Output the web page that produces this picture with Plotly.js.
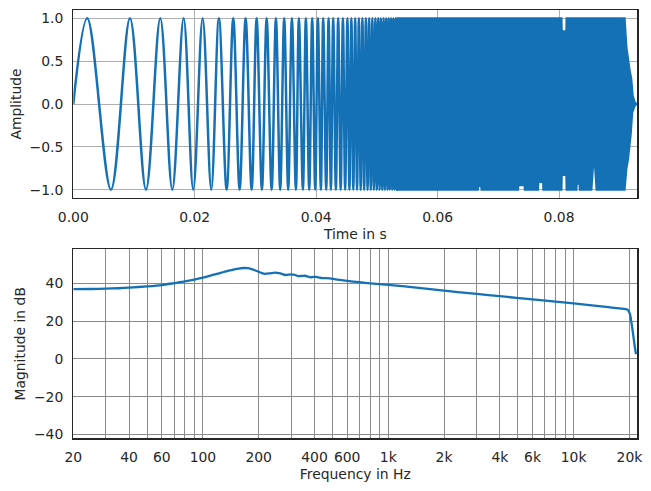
<!DOCTYPE html>
<html>
<head>
<meta charset="utf-8">
<script src="https://cdn.plot.ly/plotly-3.0.1.min.js"></script>
<style>
  html, body { margin: 0; padding: 0; background: #ffffff; }
  #chart { width: 651px; height: 491px; }
</style>
</head>
<body>
<div id="chart"></div>
<script>
// Sweep signal: extrema of the resolved oscillations (time in s, amplitude)
const sweepT = [
  0, 0.0023, 0.0062, 0.00933, 0.01197, 0.01432, 0.0163, 0.01817, 0.01975, 0.0213,
  0.02272, 0.02398, 0.02525, 0.02634, 0.02739, 0.02838, 0.02937, 0.03019, 0.03106, 0.03184,
  0.03266, 0.03337, 0.03407, 0.03473, 0.03539, 0.0360, 0.03666, 0.03715, 0.03781, 0.0383,
  0.03885, 0.03934, 0.03984, 0.04028, 0.04077, 0.04115, 0.04165, 0.04204, 0.04242, 0.0428,
  0.04324, 0.04362, 0.04403, 0.0444, 0.04477, 0.04514, 0.04547, 0.04579, 0.04611, 0.04642,
  0.04673, 0.04703, 0.04733, 0.04761, 0.0479, 0.04818, 0.04846, 0.04872, 0.04899, 0.04925,
  0.0495, 0.04975, 0.04998, 0.05021, 0.05044, 0.05065, 0.05088, 0.0511, 0.05131, 0.05152,
  0.05174, 0.05193, 0.05213, 0.05233, 0.05253, 0.05271, 0.05291, 0.05309, 0.05327, 0.05345
];
const sweepA = [
  0, 1, -1, 1, -1, 1, -1, 1, -1, 1,
  -1, 1, -1, 1, -1, 1, -1, 1, -1, 1,
  -1, 1, -1, 1, -1, 1, -1, 1, -1, 1,
  -1, 1, -1, 1, -1, 1, -1, 1, -1, 1,
  -1, 1, -1, 1, -1, 1, -1, 1, -1, 1,
  -1, 1, -1, 1, -1, 1, -1, 1, -1, 1,
  -1, 1, -1, 1, -1, 1, -1, 1, -1, 1,
  -1, 1, -1, 1, -1, 1, -1, 1, -1, 1
];

// High-frequency part of the sweep: upper and lower envelope of the band
const bandTopT = [0.0532, 0.0804, 0.08045, 0.08118, 0.08122, 0.0908, 0.0911, 0.09139, 0.09164, 0.09189, 0.09213, 0.09246, 0.09275];
const bandTopA = [1, 1, 0.85, 0.85, 1, 1, 0.66, 0.5, 0.39, 0.3, 0.1, 0.02, 0];
const bandBotT = [0.0532, 0.06662, 0.06667, 0.06718, 0.06723, 0.07325, 0.0733, 0.0743, 0.07435,
  0.07654, 0.0766, 0.07735, 0.0774, 0.0804, 0.08045, 0.08118, 0.08122, 0.08287, 0.08292,
  0.08336, 0.08341, 0.08533, 0.08576, 0.08616, 0.08889, 0.08894, 0.08912, 0.08917, 0.0908,
  0.0911, 0.09135, 0.09164, 0.0918, 0.09205, 0.09246, 0.09275];
const bandBotA = [-1, -1, -0.96, -0.96, -1, -1, -0.95, -0.95, -1,
  -1, -0.91, -0.91, -1, -1, -0.83, -0.83, -1, -1, -0.93,
  -0.93, -1, -1, -0.56, -1, -1, -0.91, -0.91, -1, -1,
  -0.75, -0.65, -0.5, -0.36, -0.1, -0.02, 0];

// Magnitude spectrum
const magFreq = [20, 25, 30, 35, 40, 50, 60, 70, 80, 90, 100, 119, 135, 146, 156, 165, 175, 183, 192,
  200, 208, 216, 230, 245, 262, 279, 300, 315, 327, 342, 355, 368, 380, 395, 410, 425, 440, 460,
  485, 520, 600, 700, 800, 1000, 1500, 2000, 3000, 4000, 6000, 10000, 15000, 19000, 19500, 20100,
  20900, 21300, 21700];
const magDb = [36.9, 37.0, 37.2, 37.4, 37.7, 38.4, 39.1, 40.1, 41.0, 42.0, 43.0, 45.0, 46.5, 47.2, 47.8, 48.1, 48.0, 47.5, 46.8,
  46.1, 45.4, 45.0, 45.3, 45.7, 45.2, 44.4, 44.7, 44.4, 43.8, 43.9, 44.0, 43.6, 43.2, 43.4, 43.4, 43.0, 42.7, 42.8,
  42.6, 42.1, 41.3, 40.6, 40.0, 39.2, 37.5, 36.1, 34.4, 33.2, 31.5, 29.4, 27.5, 26.4, 26.1, 24.0,
  13.5, 7.5, 2.5];

// Tick labels
const timeTicks = [0, 0.02, 0.04, 0.06, 0.08];
const timeTickText = ['0.00', '0.02', '0.04', '0.06', '0.08'];
const ampTicks = [-1, -0.5, 0, 0.5, 1];
const ampTickText = ['\u22121.0', '\u22120.5', '0.0', '0.5', '1.0'];
const freqTicks = [20, 40, 60, 100, 200, 400, 600, 1000, 2000, 4000, 6000, 10000, 20000];
const freqTickText = ['20', '40', '60', '100', '200', '400', '600', '1k', '2k', '4k', '6k', '10k', '20k'];
const freqMinor = [30, 50, 70, 80, 90, 300, 500, 700, 800, 900, 3000, 5000, 7000, 8000, 9000];
const dbTicks = [-40, -20, 0, 20, 40];
const dbTickText = ['\u221240', '\u221220', '0', '20', '40'];

const BLUE = '#1571b5';
const INK = '#262626';
const FONT = 'DejaVu Sans, sans-serif';
const FS = 13.9;

const bandX = bandTopT.concat(bandBotT.slice().reverse());
const bandY = bandTopA.concat(bandBotA.slice().reverse());

const traces = [
  {
    x: sweepT, y: sweepA, xaxis: 'x', yaxis: 'y', type: 'scatter', mode: 'lines',
    line: { color: BLUE, width: 2.5, shape: 'spline', smoothing: 1 },
    hoverinfo: 'skip', showlegend: false
  },
  {
    x: bandX, y: bandY, xaxis: 'x', yaxis: 'y', type: 'scatter', mode: 'lines',
    fill: 'toself', fillcolor: BLUE,
    line: { color: BLUE, width: 2 },
    hoverinfo: 'skip', showlegend: false
  },
  {
    x: magFreq, y: magDb, xaxis: 'x2', yaxis: 'y2', type: 'scatter', mode: 'lines',
    line: { color: BLUE, width: 2.3, shape: 'spline', smoothing: 0.6 },
    hoverinfo: 'skip', showlegend: false
  }
];

const W = 651, H = 491;
const xDom = [73.3 / W, 637.3 / W];

const common = {
  showline: true, mirror: true, linecolor: INK, linewidth: 1.25,
  zeroline: false, ticks: 'outside', ticklen: 6, tickcolor: 'rgba(0,0,0,0)',
  tickfont: { family: FONT, size: FS, color: INK },
  gridwidth: 1
};

const layout = {
  width: W, height: H,
  margin: { l: 0, r: 0, t: 0, b: 0 },
  paper_bgcolor: '#ffffff', plot_bgcolor: '#ffffff',
  font: { family: FONT, size: FS, color: INK },
  showlegend: false,
  xaxis: Object.assign({}, common, {
    domain: xDom, anchor: 'y', range: [0, 0.09288],
    tickmode: 'array', tickvals: timeTicks, ticktext: timeTickText,
    showgrid: true, gridcolor: '#b0b0b0',
    title: { text: 'Time in s', font: { family: FONT, size: FS, color: INK }, standoff: 5 }
  }),
  yaxis: Object.assign({}, common, {
    domain: [1 - 198.2 / H, 1 - 9.8 / H], anchor: 'x', range: [-1.1, 1.1],
    tickmode: 'array', tickvals: ampTicks, ticktext: ampTickText,
    showgrid: true, gridcolor: '#b0b0b0',
    title: { text: 'Amplitude', font: { family: FONT, size: FS, color: INK }, standoff: 4 }
  }),
  xaxis2: Object.assign({}, common, {
    domain: xDom, anchor: 'y2', type: 'log',
    range: [Math.log10(20), Math.log10(22050)],
    tickmode: 'array', tickvals: freqTicks, ticktext: freqTickText,
    showgrid: true, gridcolor: '#8a8a8a',
    minor: { tickmode: 'array', tickvals: freqMinor, showgrid: true, gridcolor: '#8a8a8a', gridwidth: 1, ticks: '' },
    title: { text: 'Frequency in Hz', font: { family: FONT, size: FS, color: INK }, standoff: 5 }
  }),
  yaxis2: Object.assign({}, common, {
    domain: [1 - 438.3 / H, 1 - 249.3 / H], anchor: 'x2', range: [-42, 58],
    tickmode: 'array', tickvals: dbTicks, ticktext: dbTickText,
    showgrid: true, gridcolor: '#8a8a8a',
    title: { text: 'Magnitude in dB', font: { family: FONT, size: FS, color: INK }, standoff: 5 }
  })
};

Plotly.newPlot('chart', traces, layout, { staticPlot: true, displayModeBar: false });
</script>
</body>
</html>
